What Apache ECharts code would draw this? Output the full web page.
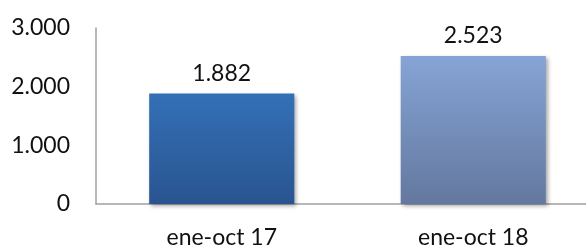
<!DOCTYPE html>
<html><head><meta charset="utf-8">
<script src="https://cdn.jsdelivr.net/npm/echarts@6/dist/echarts.min.js"></script>
<style>html,body{margin:0;padding:0;background:#fff}#c{width:586px;height:249px}</style>
</head><body><div id="c"></div>
<script>
var categories = ['ene-oct 17', 'ene-oct 18'];
var values = [1882, 2523];
var yTicks = [0, 1000, 2000, 3000];
var barColors = [['#3370b6', '#2a5490'], ['#86a4d6', '#63789e']];

function fmt(v) { return String(v).replace(/\B(?=(\d{3})+(?!\d))/g, '.'); }

var chart = echarts.init(document.getElementById('c'));
var FONT = 'Lato';
chart.setOption({
  animation: false,
  grid: { left: 96, width: 503, top: 28, height: 176, containLabel: false, outerBoundsMode: 'none' },
  xAxis: {
    type: 'category', data: categories,
    axisLine: { lineStyle: { color: '#a0a0a0', width: 1.5 } },
    axisTick: { show: false },
    axisLabel: { color: '#111', fontFamily: FONT, fontSize: 23, margin: 22 }
  },
  yAxis: {
    type: 'value', min: yTicks[0], max: yTicks[yTicks.length - 1], interval: 1000,
    axisLine: { show: true, lineStyle: { color: '#a0a0a0', width: 1.5 } },
    axisTick: { show: false },
    splitLine: { show: false },
    axisLabel: { color: '#111', fontFamily: FONT, fontSize: 23, margin: 26, formatter: fmt }
  },
  series: [{
    type: 'bar', barWidth: '57.7%',
    data: values.map(function (v, i) {
      return {
        value: v,
        itemStyle: {
          color: new echarts.graphic.LinearGradient(0, 0, 0, 1, [
            { offset: 0, color: barColors[i][0] }, { offset: 1, color: barColors[i][1] }
          ]),
          shadowColor: 'rgba(0,0,0,0.35)', shadowBlur: 4, shadowOffsetX: 2, shadowOffsetY: 2
        }
      };
    }),
    label: { show: true, position: 'top', distance: 9, color: '#111', fontFamily: FONT, fontSize: 23,
      formatter: function (p) { return fmt(p.value); } }
  }]
});
</script></body></html>
